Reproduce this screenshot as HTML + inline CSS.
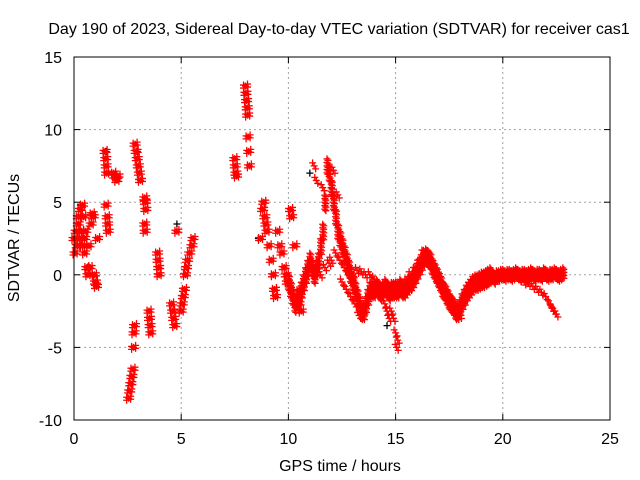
<!DOCTYPE html>
<html><head><meta charset="utf-8"><style>
body{margin:0;background:#fff;}
svg{display:block;font-family:"Liberation Sans",sans-serif;}
</style></head><body>
<svg id="chart" width="640" height="480" viewBox="0 0 640 480">
<rect width="640" height="480" fill="#fff"/>
<text x="339" y="34" text-anchor="middle" font-size="16">Day 190 of 2023, Sidereal Day-to-day VTEC variation (SDTVAR) for receiver cas1</text>
<text x="340" y="471" text-anchor="middle" font-size="16">GPS time / hours</text>
<text transform="translate(19,238) rotate(-90)" text-anchor="middle" font-size="16">SDTVAR / TECUs</text>
<g id="grid"></g>
<g id="ticks"></g>
<g id="marks"></g>
<rect x="74" y="57" width="536" height="363" fill="none" stroke="#000" stroke-width="1"/>
</svg>
<script>
const xTicks=[0,5,10,15,20,25];
const yTicks=[-10,-5,0,5,10,15];
const blackPts=[[0.1,3],[0.3,4.8],[1.5,8.5],[2.95,8.5],[4.8,3.5],[8.6,2.5],[11.0,7],[12.0,6],[14.6,-3.5]];
const early=[[0.0,2.5],[0.05,1.5],[0.1,3],[0.15,2],[0.2,4],[0.25,2.5],[0.3,4.5],[0.35,3],[0.4,2],[0.45,4],[0.5,1.5],[0.55,3],[0.6,0.5],[0.65,0],[0.7,2],[0.75,0.5],[0.8,3.5],[0.85,4.2],[0.9,4],[0.95,0],[1.0,-0.5],[1.05,-0.8],[1.1,2.5],[0.2,3.5],[0.4,4.8],[0.5,2.5],
[1.45,8.5],[1.48,8],[1.5,7.5],[1.52,7],[1.5,4.8],[1.55,4],[1.57,3.5],[1.6,3],[1.85,7],[1.9,6.8],[2.0,6.5],[2.05,6.8],
[2.55,-8.5],[2.6,-8],[2.65,-7.5],[2.7,-7],[2.75,-6.5],[2.78,-5],[2.8,-4],[2.82,-3.5],
[2.85,9],[2.9,8.5],[2.95,8],[3.0,7.5],[3.05,7],[3.1,6.5],[3.3,5.3],[3.33,5],[3.35,4.5],[3.3,3.5],[3.32,3],[3.5,-2.5],[3.52,-3],[3.55,-3.5],[3.58,-4],
[3.9,1.5],[3.92,1],[3.95,0.5],[3.97,0],[4.55,-2],[4.6,-2.5],[4.65,-3],[4.7,-3.5],[4.8,3],
[5.0,-2.5],[5.05,-2],[5.1,-1.5],[5.15,-1],[5.2,0],[5.25,0.5],[5.3,1],[5.4,1.5],[5.5,2],[5.55,2.5],
[7.5,8],[7.52,7.5],[7.55,7],[7.58,6.8],[8.0,13],[8.02,12.5],[8.05,12],[8.08,11.5],[8.1,11],[8.12,9.5],[8.15,8.5],[8.18,7.5],
[8.7,2.5],[8.8,4.5],[8.85,5],[8.9,4],[8.95,3.5],[9.0,3],[9.1,2],[9.2,1],[9.3,0],[9.35,-1],[9.4,-1.5],[9.5,3],[9.6,2],[9.7,1.5],[9.8,0.5],[9.9,0],[9.95,-0.5],[10.1,4.5],[10.15,4],[10.3,2],[10.5,-2],[10.6,-2.5]];
const mainT=[10.0,10.1,10.2,10.3,10.4,10.5,10.6,10.7,10.8,10.9,11.0,11.1,11.2,11.3,11.4,11.5,11.6,11.7,11.8,11.9,12.0,12.1,12.2,12.3,12.4,12.5,12.6,12.7,12.8,12.9,13.0,13.1,13.2,13.3,13.4,13.5,13.6,13.7,13.8,13.9,14.0,14.1,14.2,14.3,14.4,14.5,14.6,14.7,14.8,14.9,15.0,15.1,15.2,15.3,15.4,15.5,15.6,15.7,15.8,15.9,16.0,16.1,16.2,16.3,16.4,16.5,16.6,16.7,16.8,16.9,17.0,17.1,17.2,17.3,17.4,17.5,17.6,17.7,17.8,17.9,18.0,18.1,18.2,18.3,18.4,18.5,18.6,18.7,18.8,18.9,19.0,19.1,19.2,19.3,19.4,19.5,19.6,19.7,19.8,19.9,20.0,20.1,20.2,20.3,20.4,20.5,20.6,20.7,20.8,20.9,21.0,21.1,21.2,21.3,21.4,21.5,21.6,21.7,21.8,21.9,22.0,22.1,22.2,22.3,22.4,22.5,22.6,22.7,22.8];
const mainV=[-0.5,-1,-1.5,-2,-1.5,-1.5,-1,-0.5,0,0.5,1,0.5,0,0.5,1,2,3,5,7.5,7,6,5,4,3,2.5,2,1.5,1,0.5,0,-0.5,-1,-1.5,-2,-2.5,-2.5,-2,-1.5,-1,-1,-1,-0.8,-1,-1.2,-1,-0.8,-1,-1.2,-1,-1,-1,-1,-0.8,-1,-1,-0.8,-0.6,-0.5,-0.3,0,0.3,0.6,0.9,1.2,1.3,1.2,1,0.6,0.3,0,-0.3,-0.6,-1,-1.2,-1.5,-1.8,-2,-2.2,-2.5,-2.5,-2.2,-1.8,-1.5,-1.2,-1,-0.8,-0.6,-0.5,-0.5,-0.4,-0.3,-0.3,-0.2,-0.1,0,0,-0.2,0,0,0.1,0.1,0,0.1,0.1,0,0.1,0.2,0.1,0,0.1,0.1,0,0.1,0.2,0.1,0,0.1,0.1,0,0.2,0.1,0,0.1,0.1,0.2,0.1,0,0.1,0.2];
const sideT=[11.5,11.7,11.9,12.0,12.2,12.4,12.6,12.8,13.0,13.2,13.4,13.6,13.8,14.0,12.5,12.7,12.9,13.1,13.3,13.5,14.5,14.6,14.7,14.8,14.9,15.0,15.05,15.1,15.5,15.7,15.9,16.1,16.3,16.6,16.9,17.1,17.3,17.5,17.7,18.0,20.8,21.0,21.2,21.4,21.6,21.8,22.0,22.2,22.3,22.4,22.5,11.2,11.3,11.6,12.1,12.3];
const sideV=[0,0.5,0.8,1,1.5,1,0.5,0,0,0.3,0.2,0,0,-0.3,-0.5,-1,-1.5,-2,-2.8,-2.5,-2,-2.5,-3,-2.5,-3,-4,-5,-4.5,-0.5,0,0.3,0.8,1.5,0.6,-0.2,-0.8,-1.5,-2,-2.5,-2.8,-0.3,-0.5,-0.6,-0.8,-1,-1.2,-1.5,-2,-2.3,-2.5,-2.7,7.5,6.5,6,7.2,5.5];

const X0=74,X1=610,Y0=420,Y1=57;
function xs(t){return X0+(t-0)/(25-0)*(X1-X0);}
function ys(v){return Y0-(v-(-10))/(15-(-10))*(Y0-Y1);}
const NS='http://www.w3.org/2000/svg';
const grid=document.getElementById('grid'),ticks=document.getElementById('ticks'),marks=document.getElementById('marks');
function mk(tag,attrs,parent){const e=document.createElementNS(NS,tag);for(const k in attrs)e.setAttribute(k,attrs[k]);parent.appendChild(e);return e;}
xTicks.forEach(t=>{const x=xs(t);
 if(t>0&&t<25){const g=mk('line',{x1:x,x2:x,y1:Y1,y2:Y0,stroke:'#a0a0a0','stroke-dasharray':'2,3'},grid);
 
 }
 mk('line',{x1:x,x2:x,y1:Y0,y2:Y0-6,stroke:'#000'},ticks);mk('line',{x1:x,x2:x,y1:Y1,y2:Y1+6,stroke:'#000'},ticks);
 const l=mk('text',{x:x,y:Y0+24,'text-anchor':'middle','font-size':'16'},ticks);l.textContent=t;
 
 });
yTicks.forEach(v=>{const y=ys(v);
 if(v>-10&&v<15){const g=mk('line',{x1:X0,x2:X1,y1:y,y2:y,stroke:'#a0a0a0','stroke-dasharray':'2,3'},grid);
 
 }
 mk('line',{x1:X0,x2:X0+6,y1:y,y2:y,stroke:'#000'},ticks);mk('line',{x1:X1,x2:X1-6,y1:y,y2:y,stroke:'#000'},ticks);
 const l=mk('text',{x:X0-12,y:y+6,'text-anchor':'end','font-size':'16'},ticks);l.textContent=v;
 
 });
function plus(t,v,color,name,dy,dx){const x=xs(t)+(dx||0),y=ys(v)+(dy||0);
 const p=mk('path',{d:`M${x-3.5},${y}h7M${x},${y-3.5}v7`,stroke:color,'stroke-width':'1.3',fill:'none'},marks);
 
 }
blackPts.forEach(p=>plus(p[0],p[1],'#000','black-point'));
early.forEach(p=>{[[0,0],[-2,2],[2,-2],[1,2],[-1,-2]].forEach(o=>plus(p[0],p[1],'#ff0000','red-point',o[0],o[1]));});
mainT.forEach((t,i)=>{const spread=t<19.5?[-7,-3.5,0,3.5,7]:[-4,-1,2,5];
 spread.forEach(d=>{plus(t,mainV[i],'#ff0000','red-point',d,0);plus(t,mainV[i],'#ff0000','red-point',d+1.5,1);});});
sideT.forEach((t,i)=>{[-3,0,3].forEach(d=>plus(t,sideV[i],'#ff0000','red-point',d,d/2));});
</script>
</body></html>
